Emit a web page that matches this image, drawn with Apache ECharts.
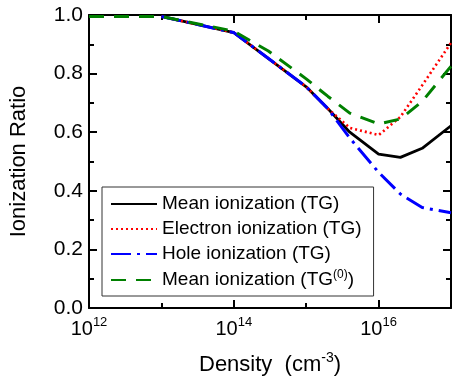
<!DOCTYPE html>
<html>
<head>
<meta charset="utf-8">
<script src="https://cdn.jsdelivr.net/npm/echarts@6/dist/echarts.min.js"></script>
<style>
html,body{margin:0;padding:0;background:#fff;}
#chart{width:454px;height:384px;}
</style>
</head>
<body>
<div id="chart"></div>
<script>
// Density values (cm^-3)
var densityTG = [1e13, 1e14, 1e15, 2e15, 4e15, 1e16, 2e16, 4e16, 1e17];
var densityTG0 = [1e12, 1e13, 1e14, 3e14, 1e15, 2e15, 4e15, 1e16, 2e16, 4e16, 1e17];
// Ionization ratios
var meanTG = [0.995, 0.94, 0.755, 0.68, 0.60, 0.525, 0.514, 0.545, 0.622];
var electronTG = [0.995, 0.94, 0.755, 0.68, 0.615, 0.59, 0.652, 0.76, 0.905];
var holeTG = [0.995, 0.94, 0.755, 0.68, 0.58, 0.463, 0.389, 0.343, 0.325];
var meanTG0 = [0.995, 0.995, 0.945, 0.877, 0.782, 0.722, 0.665, 0.628, 0.645, 0.705, 0.825];
// Axis tick exponents (labelled)
var xLabelExponents = [12, 14, 16];
var yTicks = [0.0, 0.2, 0.4, 0.6, 0.8, 1.0];

var seriesNames = ['Mean ionization (TG)', 'Electron ionization (TG)', 'Hole ionization (TG)', 'Mean ionization (TG(0))'];

function pairs(xs, ys) {
  return xs.map(function (d, i) { return [Math.log10(d), ys[i]]; });
}

var FONT = 'Liberation Sans, Arial, sans-serif';
var chart = echarts.init(document.getElementById('chart'), null, {renderer: 'canvas'});

var axisLineStyle = {color: '#000', width: 2};

function xAxisBase(pos, interval, tickLen, showLine, showLabel) {
  return {
    type: 'value', min: 12, max: 17, interval: interval, position: pos,
    axisLine: {show: showLine, onZero: false, lineStyle: axisLineStyle},
    axisTick: {show: true, inside: true, length: tickLen, lineStyle: {color: '#000', width: 2}},
    splitLine: {show: false},
    axisLabel: {show: showLabel}
  };
}

var xBottom = xAxisBase('bottom', 1, 5, true, true);
xBottom.axisLabel = {
  show: true, margin: 8,
  formatter: function (v) {
    return xLabelExponents.indexOf(v) >= 0 ? '{b|10}{s|' + v + '}' : '';
  },
  rich: {
    b: {fontFamily: FONT, fontSize: 20, lineHeight: 26, color: '#000'},
    s: {fontFamily: FONT, fontSize: 13, lineHeight: 12, verticalAlign: 'top', color: '#000'}
  }
};
xBottom.name = '{n|Density  (cm}{s|-3}{n|)}';
xBottom.nameLocation = 'middle';
xBottom.nameGap = 43;
xBottom.nameTextStyle = {
  rich: {
    n: {fontFamily: FONT, fontSize: 22, lineHeight: 28, color: '#000'},
    s: {fontFamily: FONT, fontSize: 14, lineHeight: 12, verticalAlign: 'top', color: '#000'}
  }
};

var option = {
  animation: false,
  backgroundColor: '#fff',
  grid: {left: 88, right: 2, top: 15, bottom: 76, containLabel: false},
  legend: {
    orient: 'vertical', left: 102, top: 187,
    padding: [7, 12, 5, 8],
    itemWidth: 46, itemHeight: 14, itemGap: 5,
    borderColor: '#333', borderWidth: 1, borderRadius: 0,
    backgroundColor: '#fff',
    data: seriesNames,
    itemStyle: {opacity: 0},
    textStyle: {
      fontFamily: FONT, fontSize: 19, lineHeight: 20, color: '#000',
      rich: {
        t: {fontFamily: FONT, fontSize: 19, lineHeight: 22, color: '#000'},
        s: {fontFamily: FONT, fontSize: 12, lineHeight: 12, verticalAlign: 'top', color: '#000'}
      }
    },
    formatter: function (name) {
      if (name === seriesNames[3]) return '{t|Mean ionization (TG}{s|(0)}{t|)}';
      return name;
    }
  },
  xAxis: [
    xBottom,
    xAxisBase('bottom', 2, 8, false, false),
    xAxisBase('top', 1, 5, true, false),
    xAxisBase('top', 2, 8, false, false)
  ],
  yAxis: [
    {
      type: 'value', min: 0, max: 1, interval: 0.2, position: 'left',
      axisLine: {show: true, onZero: false, lineStyle: axisLineStyle},
      axisTick: {show: true, inside: true, length: 8, lineStyle: {color: '#000', width: 2}},
      minorTick: {show: true, splitNumber: 2, length: 5, lineStyle: {color: '#000', width: 2}},
      splitLine: {show: false},
      axisLabel: {
        margin: 6, fontFamily: FONT, fontSize: 21, color: '#000',
        formatter: function (v) { return v.toFixed(1); }
      },
      name: 'Ionization Ratio', nameLocation: 'middle', nameGap: 59,
      nameTextStyle: {fontFamily: FONT, fontSize: 22, color: '#000'}
    },
    {
      type: 'value', min: 0, max: 1, interval: 0.2, position: 'right',
      axisLine: {show: true, onZero: false, lineStyle: axisLineStyle},
      axisTick: {show: true, inside: true, length: 8, lineStyle: {color: '#000', width: 2}},
      minorTick: {show: true, splitNumber: 2, length: 5, lineStyle: {color: '#000', width: 2}},
      splitLine: {show: false},
      axisLabel: {show: false}
    }
  ],
  series: [
    {
      name: seriesNames[0], type: 'line', symbol: 'none', xAxisIndex: 0, yAxisIndex: 0,
      data: pairs(densityTG, meanTG),
      lineStyle: {color: '#000000', width: 2.8, type: 'solid'},
      itemStyle: {color: '#000000'}
    },
    {
      name: seriesNames[1], type: 'line', symbol: 'none', xAxisIndex: 0, yAxisIndex: 0,
      data: pairs(densityTG, electronTG),
      lineStyle: {color: '#ff0000', width: 2.6, type: [2, 3]},
      itemStyle: {color: '#ff0000'}
    },
    {
      name: seriesNames[2], type: 'line', symbol: 'none', xAxisIndex: 0, yAxisIndex: 0,
      data: pairs(densityTG, holeTG),
      lineStyle: {color: '#0000ff', width: 3, type: [20, 6, 3, 6]},
      itemStyle: {color: '#0000ff'}
    },
    {
      name: seriesNames[3], type: 'line', symbol: 'none', xAxisIndex: 0, yAxisIndex: 0,
      data: pairs(densityTG0, meanTG0),
      lineStyle: {color: '#008000', width: 3, type: [15, 10]},
      itemStyle: {color: '#008000'}
    }
  ]
};
chart.setOption(option);
</script>
</body>
</html>
